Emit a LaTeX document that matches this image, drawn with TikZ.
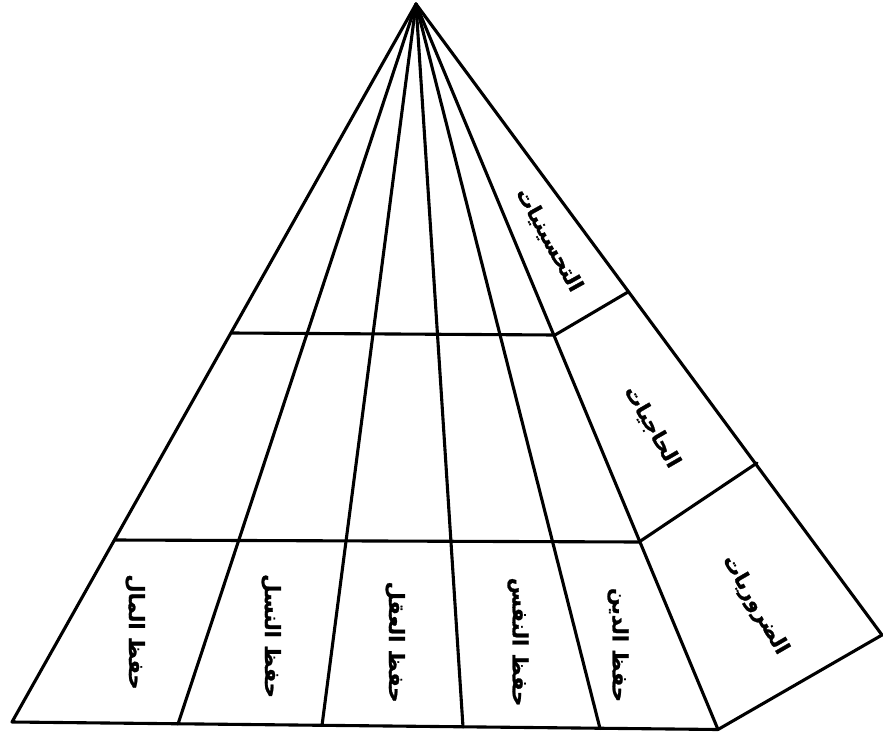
\documentclass[tikz,border=0pt]{standalone}
\usepackage{fontspec}
\newfontfamily\arabicfont[Script=Arabic,BoldFeatures={FakeBold=1.2}]{DejaVu Sans}
\TeXXeTstate=1
\begin{document}
\begin{tikzpicture}[x=1pt,y=-1pt,
  edge/.style={line width=3.1pt,line join=round,line cap=round},
  lbl/.style={font=\arabicfont\bfseries\fontsize{21}{24}\selectfont,inner sep=0pt}]
\useasboundingbox (0,0) rectangle (883,736);
% vertices
\coordinate (A) at (416,4);
\coordinate (BL) at (12,722);
\coordinate (BR) at (718,729.5);
\coordinate (RB) at (882,635);
\coordinate (b1) at (178,724);
\coordinate (b2) at (322,725.5);
\coordinate (b3) at (463,727);
\coordinate (b4) at (600,728.5);
\coordinate (u1) at (232,333);
\coordinate (u2) at (555,335);
\coordinate (u3) at (628,292);
\coordinate (l1) at (115,540);
\coordinate (l2) at (639,542);
\coordinate (l3) at (757,463);
% outline
\draw[edge] (A) -- (BL) -- (BR) -- (RB) -- cycle;
\draw[edge] (A) -- (BR);
\draw[edge] (A) -- (b1);
\draw[edge] (A) -- (b2);
\draw[edge] (A) -- (b3);
\draw[edge] (A) -- (b4);
\draw[edge] (u1) -- (u2) -- (u3);
\draw[edge] (l1) -- (l2) -- (l3);
% labels
\node[lbl,rotate=-61] (t1) at (549,240) {\beginR التحسينيات\endR};
\node[lbl,rotate=-60] (t2) at (652,427) {\beginR الحاجيات\endR};
\node[lbl,rotate=-60] (t3) at (755,605) {\beginR الضروريات\endR};
\node[lbl,rotate=-90] (c1) at (135,632) {\beginR حفظ المال\endR};
\node[lbl,rotate=-90] (c2) at (271,636) {\beginR حفظ النسل\endR};
\node[lbl,rotate=-90] (c3) at (395,642) {\beginR حفظ العقل\endR};
\node[lbl,rotate=-90] (c4) at (518,642) {\beginR حفظ النفس\endR};
\node[lbl,rotate=-90] (c5) at (618,645) {\beginR حفظ الدين\endR};
\end{tikzpicture}
\end{document}
